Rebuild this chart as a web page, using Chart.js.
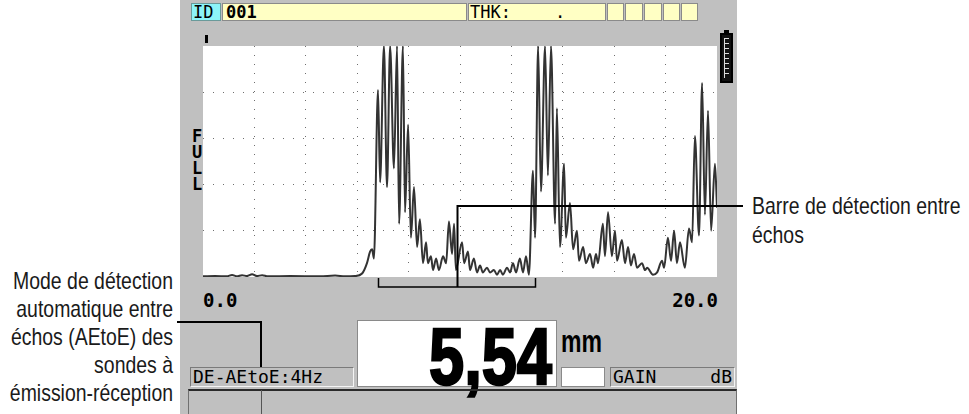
<!DOCTYPE html>
<html><head><meta charset="utf-8">
<script src="https://cdn.jsdelivr.net/npm/chart.js@4.4.1/dist/chart.umd.min.js"></script>
<style>
html,body{margin:0;padding:0;background:#fff;width:969px;height:414px;overflow:hidden;position:relative;font-family:"Liberation Sans",Arial,sans-serif;}
.a{position:absolute;box-sizing:border-box;}
.mono{font-family:"DejaVu Sans Mono",monospace;color:#000;}
.note{font-family:"Liberation Sans",Arial,sans-serif;font-size:24px;line-height:28px;color:#1a1a1a;white-space:nowrap;}
.hbox{top:3px;height:18px;background:#ffffc4;border:1px solid #8a8a8a;}
.inset{border-top:1px solid #7a7a7a;border-left:1px solid #7a7a7a;border-bottom:1px solid #f4f4f4;border-right:1px solid #f4f4f4;}
</style></head>
<body>
<div class="a" id="screen" style="left:180px;top:0;width:557px;height:414px;background:#c0c0c0;"></div>

<!-- header -->
<div class="a mono" style="left:191px;top:3px;width:30px;height:18px;background:#8cf4f8;border:1px solid #6a9a9a;font-size:17px;line-height:16px;padding-left:1px;">ID</div>
<div class="a hbox mono" style="left:222px;width:245px;font-size:17px;line-height:16px;font-weight:bold;padding-left:3px;">001</div>
<div class="a hbox mono" style="left:468px;width:138px;font-size:17px;line-height:16px;padding-left:1px;">THK:<span style="position:absolute;left:86px;">.</span></div>
<div class="a hbox" style="left:607px;width:17px;"></div>
<div class="a hbox" style="left:625px;width:18px;"></div>
<div class="a hbox" style="left:644px;width:18px;"></div>
<div class="a hbox" style="left:663px;width:17px;"></div>
<div class="a hbox" style="left:681px;width:17px;"></div>

<!-- small marker and battery -->
<div class="a" style="left:205px;top:35px;width:3px;height:8px;background:#000;"></div>
<div class="a" style="left:724px;top:30px;width:5px;height:3px;background:#000;"></div>
<div class="a" style="left:720px;top:33px;width:13px;height:50px;background:#111;border:2px solid #000;">
  <div class="a" style="left:2px;top:3px;width:5px;height:40px;border-left:1px solid #ddd;background:repeating-linear-gradient(to bottom,#ddd 0,#ddd 1px,transparent 1px,transparent 5px);"></div>
</div>

<!-- FULL -->
<div class="a mono" style="left:190px;top:128px;width:14px;font-size:17px;line-height:16px;font-weight:bold;text-align:center;">F<br>U<br>L<br>L</div>

<!-- axis end labels -->
<div class="a mono" style="left:203px;top:291px;font-size:19px;line-height:19px;font-weight:bold;">0.0</div>
<div class="a mono" style="left:618px;width:100px;text-align:right;top:291px;font-size:19px;line-height:19px;font-weight:bold;">20.0</div>

<!-- reading -->
<div class="a" style="left:357px;top:320px;width:200px;height:67px;background:#fff;border:1px solid #8a8a8a;"></div>
<div class="a" style="left:300px;top:317px;width:252px;text-align:right;font-size:80px;line-height:80px;font-weight:bold;color:#000;-webkit-text-stroke:2.5px #000;transform:scaleX(0.79);transform-origin:right top;white-space:nowrap;">5,54</div>
<div class="a" style="left:561px;top:323px;font-size:32px;line-height:36px;font-weight:bold;color:#000;transform:scaleX(0.72);transform-origin:left top;">mm</div>
<div class="a" style="left:561px;top:367px;width:44px;height:20px;background:#fff;border:1px solid #8a8a8a;"></div>
<div class="a inset mono" style="left:610px;top:367px;width:125px;height:20px;font-size:18px;line-height:18px;padding-left:2px;">GAIN<span style="position:absolute;right:2px;">dB</span></div>
<div class="a inset mono" style="left:190px;top:367px;width:164px;height:20px;font-size:18px;line-height:18px;padding-left:2px;">DE-AEtoE:4Hz</div>

<!-- bottom row -->
<div class="a" style="left:188px;top:389px;width:549px;height:25px;border-top:2px solid #2a2a2a;border-left:1px solid #707070;border-right:1px solid #707070;"></div>
<div class="a" style="left:261px;top:390px;width:1px;height:24px;background:#555;"></div>

<!-- callouts -->
<div class="a note" style="left:0;top:267px;width:173px;height:140px;transform:scaleX(0.81);transform-origin:right top;">
<div style="position:absolute;right:0;top:0;">Mode de détection</div>
<div style="position:absolute;right:0;top:28px;">automatique entre</div>
<div style="position:absolute;right:0;top:56px;">échos (AEtoE) des</div>
<div style="position:absolute;right:0;top:84px;">sondes à</div>
<div style="position:absolute;right:0;top:112px;">émission-réception</div>
</div>
<div class="a" style="left:177px;top:321px;width:85px;height:2px;background:#000;"></div>
<div class="a" style="left:260px;top:321px;width:2px;height:46px;background:#000;"></div>
<div class="a note" style="left:752px;top:191px;line-height:29px;transform:scaleX(0.81);transform-origin:left top;">Barre de détection entre<br>échos</div>

<canvas id="c" width="969" height="414" class="a" style="left:0;top:0;width:969px;height:414px;"></canvas>

<script>
// Depth axis (mm) and echo amplitude (% full screen height), read from the A-scan
const depthMm = [
 0.00,0.47,0.93,1.13,1.32,1.52,1.71,1.91,2.10,2.30,
 2.53,3.39,4.55,5.14,5.53,5.91,6.19,6.38,6.50,6.58,
 6.65,6.81,6.89,7.04,7.16,7.28,7.43,7.55,7.63,7.78,
 7.86,7.98,8.09,8.21,8.33,8.44,8.56,8.68,8.75,8.87,
 8.95,9.07,9.18,9.34,9.46,9.57,9.69,9.77,9.84,10.08,
 10.16,10.31,10.39,10.54,10.66,10.78,10.89,11.05,11.17,11.32,
 11.44,11.56,11.67,11.83,11.95,12.06,12.18,12.33,12.45,12.57,
 12.68,12.84,12.92,13.04,13.15,13.31,13.42,13.54,13.70,13.77,
 13.89,14.05,14.12,14.28,14.40,14.55,14.63,14.79,14.90,15.06,
 15.18,15.29,15.37,15.56,15.64,15.76,15.91,16.03,16.11,16.30,
 16.42,16.54,16.65,16.77,16.89,17.08,17.20,17.28,17.51,17.67,
 17.86,17.94,18.09,18.21,18.33,18.44,18.56,18.75,18.91,19.03,
 19.14,19.30,19.42,19.53,19.65,19.77,19.92,20.00
];
const amplitudePct = [
 0.3,0.4,0.3,0.9,0.3,0.8,0.4,1.2,0.4,0.8,
 0.3,0.4,0.3,0.6,0.3,0.4,1.5,6,11,12,
 8,81,41,100,39,100,47,100,23,100,
 28,66,17,39,13,25,6,15,6,9,
 3,8,3,9,6,24,10,23,3,15,
 6,11,3,8,2,5,2,4,2,3,
 1,3,1,4,2,6,2,8,2,9,
 1,46,17,100,37,100,44,100,23,73,
 13,49,17,32,12,20,7,13,6,10,
 4,10,6,23,9,28,9,20,7,16,
 6,13,5,10,4,6,3,4,1,2,
 7,4,17,7,20,6,15,4,21,15,
 61,18,84,27,72,20,49,30
];
// Axis range and grid
const xRange = [0, 20];
const yRange = [0, 100];
const xStep = 2;
const yStep = 20;
// Echo-to-echo detection bar (mm) and its callout level (%)
const detectionBar = [6.8, 12.9];
const detectionMarker = 9.9;
const calloutLevel = 30.6;

if (depthMm.length !== amplitudePct.length) console.error('length mismatch', depthMm.length, amplitudePct.length);
const points = depthMm.map((x, i) => ({x, y: amplitudePct[i]}));

const hideEdge = (lo, hi) => (ctx) => (ctx.tick && (ctx.tick.value === lo || ctx.tick.value === hi)) ? 'rgba(0,0,0,0)' : '#6e6e6e';

const overlay = {
  id: 'overlay',
  beforeDraw(chart) {
    const {ctx, chartArea: a} = chart;
    ctx.save();
    ctx.fillStyle = '#ffffff';
    ctx.fillRect(a.left, a.top, a.right - a.left, a.bottom - a.top);
    ctx.restore();
  },
  afterDraw(chart) {
    const {ctx, chartArea: a, scales: {x, y}} = chart;
    const x0 = Math.round(x.getPixelForValue(detectionBar[0])) + 0.5;
    const x1 = Math.round(x.getPixelForValue(detectionBar[1])) + 0.5;
    const xm = Math.round(x.getPixelForValue(detectionMarker)) + 0.5;
    const yl = Math.round(y.getPixelForValue(calloutLevel));
    const yb = a.bottom + 10;
    ctx.save();
    ctx.strokeStyle = '#000';
    ctx.lineWidth = 1.5;
    ctx.beginPath();
    ctx.moveTo(x0, a.bottom + 1); ctx.lineTo(x0, yb); ctx.lineTo(x1, yb); ctx.lineTo(x1, a.bottom + 1);
    ctx.stroke();
    ctx.lineWidth = 2;
    ctx.beginPath();
    ctx.moveTo(xm, yb); ctx.lineTo(xm, yl); ctx.lineTo(743, yl);
    ctx.stroke();
    ctx.restore();
  }
};

new Chart(document.getElementById('c'), {
  type: 'line',
  data: { datasets: [{
    data: points,
    borderColor: '#333333',
    borderWidth: 2,
    pointRadius: 0,
    cubicInterpolationMode: 'monotone',
    fill: false
  }]},
  options: {
    responsive: false,
    animation: false,
    devicePixelRatio: 1,
    layout: { padding: { left: 203, top: 46, right: 252, bottom: 137 } },
    plugins: { legend: { display: false }, tooltip: { enabled: false } },
    scales: {
      x: {
        type: 'linear', min: xRange[0], max: xRange[1],
        ticks: { display: false, stepSize: xStep },
        grid: { color: hideEdge(xRange[0], xRange[1]), drawTicks: false, lineWidth: 1 },
        border: { display: false, dash: [1, 8] },
        afterFit: (s) => { s.height = 0; }
      },
      y: {
        type: 'linear', min: yRange[0], max: yRange[1],
        ticks: { display: false, stepSize: yStep },
        grid: { color: hideEdge(yRange[0], yRange[1]), drawTicks: false, lineWidth: 1 },
        border: { display: false, dash: [1, 9] },
        afterFit: (s) => { s.width = 0; }
      }
    }
  },
  plugins: [overlay]
});
</script>
</body></html>
